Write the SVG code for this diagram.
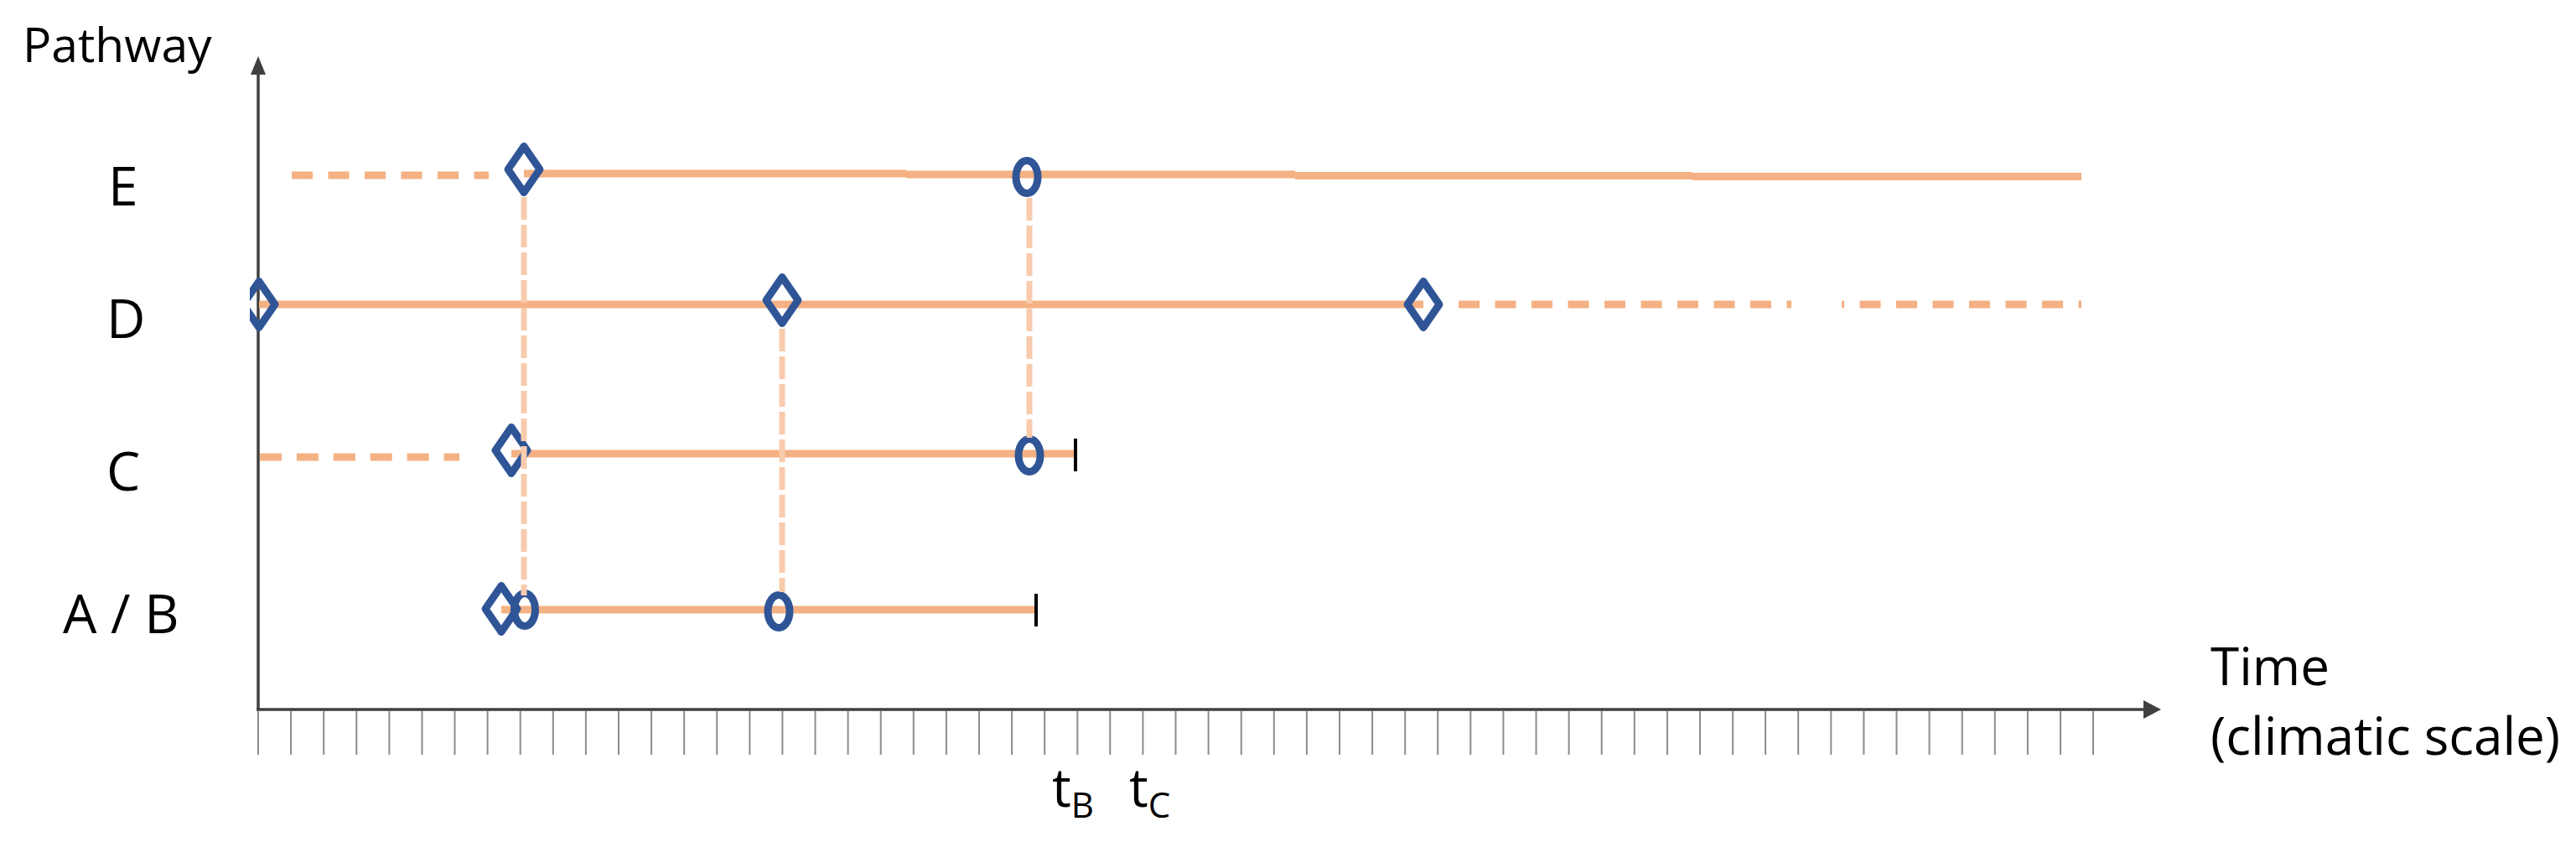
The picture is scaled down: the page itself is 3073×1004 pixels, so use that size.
<svg xmlns="http://www.w3.org/2000/svg" width="3073" height="1004" viewBox="0 0 3073 1004">
<style>
  .lbl { font-family: "Open Sans", "Noto Sans", "Liberation Sans", sans-serif; fill: #000; }
  .row { font-size: 64px; }
  .path { stroke: #F4B183; stroke-width: 9; fill: none; stroke-linecap: butt; }
  .dash { stroke-dasharray: 25 18.5; }
  .link { stroke: #F8CBAD; stroke-width: 7; fill: none; stroke-dasharray: 27 6; }
  .dia { stroke: #2F5597; stroke-width: 9; fill: none; stroke-linejoin: round; }
  .end { stroke: #000; stroke-width: 4; }
  .axis { stroke: #404040; stroke-width: 3.5; fill: none; }
  .tick { stroke: #8C8C8C; stroke-width: 2; fill: none; }
</style>
<defs>
  <path id="diamond" d="M0,-27.5 L19,0 L0,27.5 L-19,0 Z"/>
  <clipPath id="clipAxis"><rect x="298" y="300" width="100" height="120"/></clipPath>
</defs>
<rect width="3073" height="1004" fill="#fff"/>

<g id="axes">
  <line class="axis" x1="308" y1="86" x2="308" y2="847"/>
  <polygon points="308,67 299,89 317,89" fill="#404040"/>
  <line class="axis" x1="306" y1="846" x2="2560" y2="846"/>
  <polygon points="2578,846 2557,835 2557,857" fill="#404040"/>
  <path class="tick" d="M308,848V900M347.1,848V900M386.2,848V900M425.3,848V900M464.4,848V900M503.5,848V900M542.5,848V900M581.6,848V900M620.7,848V900M659.8,848V900M698.9,848V900M738,848V900M777.1,848V900M816.2,848V900M855.3,848V900M894.4,848V900M933.4,848V900M972.5,848V900M1011.6,848V900M1050.7,848V900M1089.8,848V900M1128.9,848V900M1168,848V900M1207.1,848V900M1246.2,848V900M1285.3,848V900M1324.3,848V900M1363.4,848V900M1402.5,848V900M1441.6,848V900M1480.7,848V900M1519.8,848V900M1558.9,848V900M1598,848V900M1637.1,848V900M1676.2,848V900M1715.2,848V900M1754.3,848V900M1793.4,848V900M1832.5,848V900M1871.6,848V900M1910.7,848V900M1949.8,848V900M1988.9,848V900M2028,848V900M2067.1,848V900M2106.1,848V900M2145.2,848V900M2184.3,848V900M2223.4,848V900M2262.5,848V900M2301.6,848V900M2340.7,848V900M2379.8,848V900M2418.9,848V900M2458,848V900M2497,848V900"/>
  <text class="lbl" x="27" y="74" font-size="57">Pathway</text>
  <text class="lbl" x="2637" y="817" font-size="62">Time</text>
  <text class="lbl" x="2637" y="900" font-size="62">(climatic scale)</text>
  <text class="lbl" x="1255" y="962" font-size="64">t<tspan font-size="42" dy="13">B</tspan></text>
  <text class="lbl" x="1347" y="962" font-size="64">t<tspan font-size="42" dy="13">C</tspan></text>
</g>

<g id="pathway-E">
  <text class="lbl row" x="129" y="245">E</text>
  <line class="path dash" x1="348" y1="209" x2="583" y2="209"/>
  <line class="path" x1="625" y1="207" x2="1081" y2="207"/>
  <line class="path" x1="1081" y1="208" x2="1545" y2="208"/>
  <line class="path" x1="1545" y1="209.5" x2="2019" y2="209.5"/>
  <line class="path" x1="2019" y1="210.5" x2="2483" y2="210.5"/>
  <use href="#diamond" class="dia" x="625" y="202"/>
  <ellipse class="dia" cx="1225" cy="211" rx="13" ry="19.5"/>
</g>

<g id="pathway-D">
  <text class="lbl row" x="127" y="403">D</text>
  <line class="path" x1="309" y1="363" x2="1698" y2="363"/>
  <line class="path dash" x1="1740" y1="363" x2="2137" y2="363"/>
  <line class="path dash" x1="2197" y1="363" x2="2483" y2="363" stroke-dashoffset="22"/>
  <g clip-path="url(#clipAxis)"><use href="#diamond" class="dia" x="309" y="363"/></g>
  <use href="#diamond" class="dia" x="933" y="358"/>
  <use href="#diamond" class="dia" x="1698" y="363"/>
</g>

<g id="pathway-C">
  <text class="lbl row" x="127" y="585">C</text>
  <line class="path" x1="310" y1="545" x2="548" y2="545" stroke-dasharray="26 17.9"/>
  <line class="path" x1="610" y1="541" x2="1283" y2="541"/>
  <line class="end" x1="1283" y1="523" x2="1283" y2="562"/>
  <use href="#diamond" class="dia" x="610" y="537"/>
  <ellipse class="dia" cx="1228" cy="543" rx="13" ry="19.5"/>
</g>

<g id="pathway-AB">
  <text class="lbl row" x="75" y="755">A / B</text>
  <line class="path" x1="598" y1="727" x2="1236" y2="727"/>
  <line class="end" x1="1236" y1="708" x2="1236" y2="747"/>
  <use href="#diamond" class="dia" x="598" y="726"/>
  <ellipse class="dia" cx="626" cy="727" rx="12.5" ry="19.5"/>
  <ellipse class="dia" cx="929" cy="729" rx="13" ry="19.5"/>
</g>

<g id="connectors">
  <line class="link" x1="625" y1="235" x2="625" y2="710"/>
  <line class="link" x1="933" y1="392" x2="933" y2="706"/>
  <line class="link" x1="1228" y1="236" x2="1228" y2="522"/>
</g>
</svg>
